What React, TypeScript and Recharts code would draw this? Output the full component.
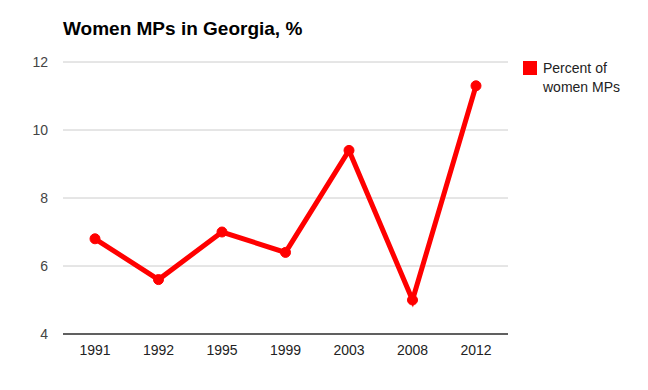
import { CartesianGrid, Line, LineChart, XAxis, YAxis } from 'recharts'

const years = ['1991', '1992', '1995', '1999', '2003', '2008', '2012']
const womenPct = [6.8, 5.6, 7.0, 6.4, 9.4, 5.0, 11.3]
const yTicks = [4, 6, 8, 10, 12]

const data = years.map((year, i) => ({ year, pct: womenPct[i] }))

const RED = '#ff0000'
const FONT = '"Liberation Sans", Arial, sans-serif'

export default function App() {
  return (
    <div style={{ position: 'absolute', left: 0, top: 0, width: 648, height: 390, background: '#fff', fontFamily: FONT }}>
      <div style={{ position: 'absolute', left: 63, top: 18, fontSize: 19, fontWeight: 'bold', color: '#000' }}>
        Women MPs in Georgia, %
      </div>
      <div style={{ position: 'absolute', left: 523, top: 61, width: 14, height: 14, background: RED }} />
      <div style={{ position: 'absolute', left: 543, top: 59, fontSize: 14, lineHeight: '19px', color: '#222' }}>
        Percent of
        <br />
        women MPs
      </div>
      <LineChart width={648} height={390} data={data} margin={{ top: 62, right: 140, bottom: 26, left: 0 }}>
        <CartesianGrid vertical={false} stroke="#cccccc" />
        <XAxis
          dataKey="year"
          height={30}
          padding={{ left: 32, right: 32 }}
          tick={{ fill: '#222', fontSize: 14, fontFamily: FONT }}
          tickLine={false}
          tickSize={0}
          tickMargin={11}
          axisLine={{ stroke: '#333', strokeWidth: 1.5 }}
        />
        <YAxis
          width={63}
          domain={[4, 12]}
          ticks={yTicks}
          tick={{ fill: '#444', fontSize: 14, fontFamily: FONT }}
          tickLine={false}
          tickSize={0}
          tickMargin={15}
          axisLine={false}
        />
        <Line
          type="linear"
          dataKey="pct"
          stroke={RED}
          strokeWidth={5}
          dot={{ r: 5, fill: RED, stroke: RED, strokeWidth: 1 }}
          isAnimationActive={false}
        />
      </LineChart>
    </div>
  )
}
